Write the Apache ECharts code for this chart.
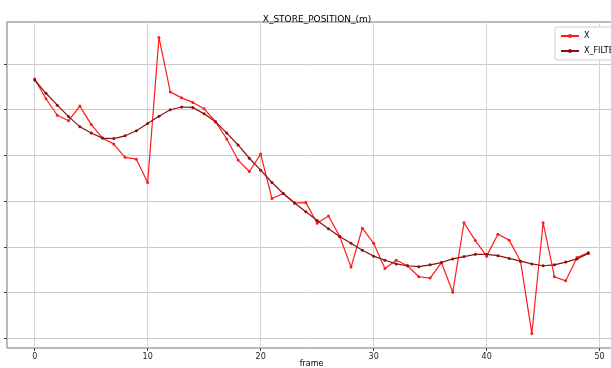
<!DOCTYPE html>
<html>
<head>
<meta charset="utf-8">
<script src="https://cdn.jsdelivr.net/npm/echarts@6/dist/echarts.min.js"></script>
<style>
  html, body { margin: 0; padding: 0; background: #fff; }
  #chart { width: 611px; height: 368px; }
</style>
</head>
<body>
<div id="chart"></div>
<script>
// frame index (x)
const frames = [0, 1, 2, 3, 4, 5, 6, 7, 8, 9, 10, 11, 12, 13, 14, 15, 16, 17, 18, 19,
  20, 21, 22, 23, 24, 25, 26, 27, 28, 29, 30, 31, 32, 33, 34, 35, 36, 37, 38, 39,
  40, 41, 42, 43, 44, 45, 46, 47, 48, 49]

// raw position
const xRaw = [5.67, 5.24, 4.88, 4.76, 5.08, 4.68, 4.38, 4.25, 3.96, 3.92,
  3.41, 6.58, 5.39, 5.26, 5.16, 5.02, 4.74, 4.36, 3.90, 3.65,
  4.03, 3.06, 3.17, 2.96, 2.97, 2.52, 2.68, 2.23, 1.56, 2.41,
  2.08, 1.53, 1.71, 1.59, 1.35, 1.32, 1.66, 1.01, 2.53, 2.14,
  1.80, 2.28, 2.15, 1.69, 0.11, 2.53, 1.35, 1.26, 1.77, 1.88]

// filtered position
const xFilter = [5.65, 5.36, 5.10, 4.85, 4.63, 4.49, 4.38, 4.37, 4.43, 4.54,
  4.70, 4.86, 5.00, 5.06, 5.05, 4.91, 4.74, 4.49, 4.23, 3.94,
  3.68, 3.41, 3.17, 2.96, 2.77, 2.58, 2.40, 2.23, 2.08, 1.93,
  1.80, 1.71, 1.63, 1.59, 1.57, 1.61, 1.66, 1.74, 1.79, 1.84,
  1.84, 1.81, 1.75, 1.69, 1.63, 1.59, 1.61, 1.67, 1.74, 1.86]

const xTicks = [0, 10, 20, 30, 40, 50]
const yTicks = [0, 1, 2, 3, 4, 5, 6]

const chart = echarts.init(document.getElementById('chart'))

const font = 'DejaVu Sans'

chart.setOption({
  animation: false,
  backgroundColor: '#fff',
  title: {
    text: 'X_STORE_POSITION_(m)',
    left: 312,
    textAlign: 'center',
    top: 10,
    textStyle: { fontFamily: font, fontSize: 9, fontWeight: 'normal', color: '#000' }
  },
  legend: {
    orient: 'vertical',
    left: 555,
    top: 27,
    itemWidth: 18,
    itemHeight: 5,
    itemGap: 7,
    padding: [5, 5, 5, 5],
    backgroundColor: '#fff',
    borderColor: '#d0d0d0',
    borderWidth: 1,
    borderRadius: 3,
    textStyle: { fontFamily: font, fontSize: 8, color: '#000' },
    data: ['X', 'X_FILTER']
  },
  grid: {
    left: 7,
    top: 22,
    width: 609,
    height: 326,
    outerBoundsMode: 'none',
    containLabel: false,
    show: true,
    borderColor: '#777',
    borderWidth: 1,
    backgroundColor: 'transparent'
  },
  xAxis: {
    type: 'value',
    min: -2.45,
    max: 51.45,
    name: 'frame',
    nameLocation: 'middle',
    nameGap: 12,
    nameMoveOverlap: false,
    nameTextStyle: { fontFamily: font, fontSize: 8, color: '#000' },
    axisLine: { show: false, onZero: false },
    axisTick: { show: true, customValues: xTicks, length: 3, lineStyle: { color: '#444' } },
    axisLabel: { customValues: xTicks, fontFamily: font, fontSize: 8, color: '#222', margin: 5 },
    splitLine: { show: true, lineStyle: { color: '#d4d4d4', width: 1 } }
  },
  yAxis: {
    type: 'value',
    min: -0.208,
    max: 6.918,
    axisLine: { show: false, onZero: false },
    axisTick: { show: true, customValues: yTicks, length: 3, lineStyle: { color: '#444' } },
    axisLabel: { show: false, customValues: yTicks },
    splitLine: { show: true, lineStyle: { color: '#c8c8c8', width: 1 } }
  },
  series: [
    {
      name: 'X',
      type: 'line',
      data: frames.map((f, i) => [f, xRaw[i]]),
      symbol: 'circle',
      symbolSize: 3,
      lineStyle: { color: '#ff1a1a', width: 1.2 },
      itemStyle: { color: '#ff1a1a' }
    },
    {
      name: 'X_FILTER',
      type: 'line',
      data: frames.map((f, i) => [f, xFilter[i]]),
      symbol: 'circle',
      symbolSize: 3,
      lineStyle: { color: '#8b1010', width: 1.2 },
      itemStyle: { color: '#8b1010' }
    }
  ]
})
</script>
</body>
</html>
